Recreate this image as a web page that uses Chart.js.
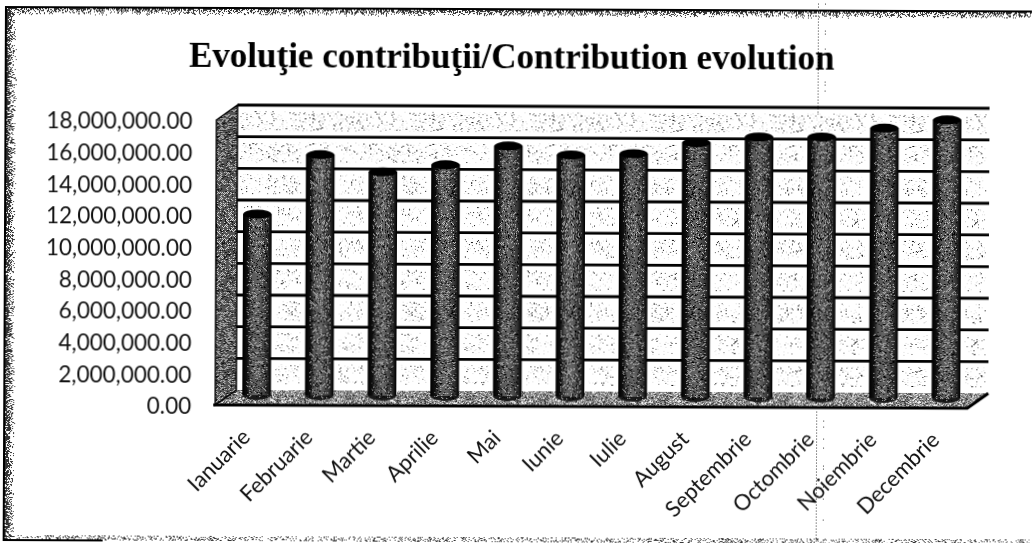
<!DOCTYPE html>
<html>
<head>
<meta charset="utf-8">
<title>Evoluţie contribuţii</title>
<style>
html, body { margin: 0; padding: 0; background: #fff; overflow: hidden; width: 1032px; height: 543px; }
#wrap { width: 1032px; height: 543px; transform: rotate(0.25deg); transform-origin: 0 0; }
</style>
<script src="https://cdn.jsdelivr.net/npm/chart.js@4"></script>
</head>
<body>
<div id="wrap"><canvas id="chart" width="1032" height="543"></canvas></div>
<script>
const months = ['Ianuarie', 'Februarie', 'Martie', 'Aprilie', 'Mai', 'Iunie', 'Iulie', 'August', 'Septembrie', 'Octombrie', 'Noiembrie', 'Decembrie'];
const contributions = [11430000, 15200000, 14130000, 14600000, 15800000, 15250000, 15350000, 16070000, 16440000, 16460000, 17030000, 17570000];
const tickStep = 2000000;
const tickMax = 18000000;

// depth of the fake 3D box, tick labels sit a little under the front plane
const depthX = 21, depthY = 15;
const frontLift = 2;
const barShiftX = 10, barShiftY = -12;
const barWidth = 28;

// repeatable noise for the scanned look
function noise(x, y) {
    const v = Math.sin(x * 12.9898 + y * 78.233) * 43758.5453;
    return v - Math.floor(v);
}

function makePattern(ctx, size, base, paint) {
    const c = document.createElement('canvas');
    c.width = c.height = size;
    const g = c.getContext('2d');
    if (base) { g.fillStyle = base; g.fillRect(0, 0, size, size); }
    for (let x = 0; x < size; x++) {
        for (let y = 0; y < size; y++) {
            const col = paint(x, y, noise(x, y));
            if (col) { g.fillStyle = col; g.fillRect(x, y, 1, 1); }
        }
    }
    return ctx.createPattern(c, 'repeat');
}

const box3d = {
    id: 'box3d',
    beforeDraw(chart) {
        const ctx = chart.ctx;
        ctx.save();
        ctx.fillStyle = '#fff';
        ctx.fillRect(0, 0, chart.width, chart.height);
        // scanned page frame
        ctx.fillStyle = '#333';
        for (let x = 7; x < 18; x++) {
            for (let y = 7; y < 540; y++) {
                if (noise(x, y) < 0.85 - (x - 7) / 11) ctx.fillRect(x, y, 1, 1);
            }
        }
        for (let x = 7; x < 1032; x++) {
            for (let y = 7; y < 16; y++) {
                if (noise(x, y) < 0.8 - (y - 7) / 9) ctx.fillRect(x, y, 1, 1);
            }
            for (let y = 535; y < 540; y++) {
                if (noise(x, y) < 0.25) ctx.fillRect(x, y, 1, 1);
            }
        }
        ctx.fillStyle = '#000';
        ctx.fillRect(6, 6, 1026, 2);
        ctx.fillRect(5, 6, 2, 535);
        ctx.fillRect(5, 539, 100, 2);
        ctx.restore();
    },
    beforeDatasetsDraw(chart) {
        const ctx = chart.ctx;
        const y = chart.scales.y;
        const a = chart.chartArea;
        const backL = a.left + depthX, backR = a.right + depthX;
        const back = depthY + frontLift;
        const frontTop = y.top - frontLift, frontBottom = y.bottom - frontLift;
        const speckle = makePattern(ctx, 120, null, (px, py, n) => {
            if (n < 0.03) return '#666';
            if (n < 0.05) return '#111';
            if (n < 0.1) return '#ddd';
            return null;
        });
        const sideWall = makePattern(ctx, 120, '#555', (px, py, n) => {
            if ((px + py) % 2 === 0 && n < 0.35) return '#ddd';
            if (n > 0.85) return '#111';
            return null;
        });
        const floorFill = makePattern(ctx, 120, '#8c8c8c', (px, py, n) => {
            if (n < 0.25) return '#eee';
            if (n > 0.8) return '#333';
            return null;
        });
        ctx.save();
        // speckled bands on the back wall
        ctx.fillStyle = speckle;
        for (let v = 0; v < tickMax; v += tickStep) {
            const top = y.getPixelForValue(v + tickStep) - back;
            const bottom = y.getPixelForValue(v) - back;
            ctx.fillRect(backL + 3, top + 6, backR - backL - 6, bottom - top - 12);
        }
        // white halo next to the columns
        ctx.fillStyle = '#fff';
        chart.getDatasetMeta(0).data.forEach(bar => {
            ctx.fillRect(bar.x + barShiftX - barWidth / 2 - 5, bar.y + barShiftY - 6, barWidth + 10, y.bottom - bar.y);
        });
        // floor
        ctx.fillStyle = floorFill;
        ctx.beginPath();
        ctx.moveTo(a.left, frontBottom);
        ctx.lineTo(backL, frontBottom - depthY);
        ctx.lineTo(backR, frontBottom - depthY);
        ctx.lineTo(a.right, frontBottom);
        ctx.closePath();
        ctx.fill();
        // gridlines on the back wall
        ctx.strokeStyle = '#000';
        ctx.lineWidth = 2.8;
        for (let v = tickStep; v <= tickMax; v += tickStep) {
            const py = y.getPixelForValue(v) - back;
            ctx.beginPath();
            ctx.moveTo(backL, py);
            ctx.lineTo(backR, py);
            ctx.stroke();
        }
        // left wall
        ctx.fillStyle = sideWall;
        ctx.beginPath();
        ctx.moveTo(a.left, frontTop);
        ctx.lineTo(backL, frontTop - depthY);
        ctx.lineTo(backL, frontBottom - depthY);
        ctx.lineTo(a.left, frontBottom);
        ctx.closePath();
        ctx.fill();
        ctx.lineWidth = 1.5;
        ctx.stroke();
        // front edge of the floor
        ctx.lineWidth = 3;
        ctx.beginPath();
        ctx.moveTo(a.left - 2, frontBottom);
        ctx.lineTo(a.right, frontBottom);
        ctx.lineTo(backR, frontBottom - depthY);
        ctx.stroke();
        ctx.restore();
    },
    beforeDatasetDraw(chart) {
        chart.ctx.save();
        chart.ctx.translate(barShiftX, barShiftY);
    },
    afterDatasetDraw(chart) {
        const ctx = chart.ctx;
        const dots = makePattern(ctx, 120, null, (px, py, n) => {
            if ((px + py) % 2 === 0 && n < 0.22) return '#ccc';
            if (n > 0.88) return '#000';
            return null;
        });
        chart.getDatasetMeta(0).data.forEach(bar => {
            const r = barWidth / 2;
            const base = chart.scales.y.bottom;
            // round foot of the cylinder
            ctx.fillStyle = '#1a1a1a';
            ctx.beginPath();
            ctx.ellipse(bar.x, base, r, 5, 0, 0, Math.PI);
            ctx.fill();
            // halftone on the body
            ctx.fillStyle = dots;
            ctx.fillRect(bar.x - r + 4, bar.y, barWidth - 7, base - bar.y + 3);
            // cap
            ctx.fillStyle = '#000';
            ctx.beginPath();
            ctx.ellipse(bar.x, bar.y, r, 4.5, 0, 0, Math.PI * 2);
            ctx.fill();
        });
        ctx.restore();
    },
    afterDraw(chart) {
        // paper fold
        const ctx = chart.ctx;
        ctx.save();
        ctx.fillStyle = '#333';
        for (let py = 0; py < 540; py += 3) {
            if (py > 108 && py < 408) continue;
            ctx.fillRect(818, py, 1, 1);
            if (noise(py, 7) < 0.2) ctx.fillRect(825, py, 1, 1);
        }
        ctx.restore();
    }
};

new Chart(document.getElementById('chart').getContext('2d'), {
    type: 'bar',
    plugins: [box3d],
    data: {
        labels: months,
        datasets: [{
            data: contributions,
            barThickness: barWidth,
            clip: false,
            backgroundColor: function(c) {
                const a = c.chart.chartArea;
                if (!a) return '#444';
                const cx = c.chart.scales.x.getPixelForValue(c.dataIndex);
                const g = c.chart.ctx.createLinearGradient(cx - barWidth / 2, 0, cx + barWidth / 2, 0);
                g.addColorStop(0, '#000');
                g.addColorStop(0.16, '#111');
                g.addColorStop(0.3, '#555');
                g.addColorStop(0.55, '#666');
                g.addColorStop(0.85, '#333');
                g.addColorStop(1, '#000');
                return g;
            }
        }]
    },
    options: {
        responsive: false,
        devicePixelRatio: 1,
        animation: false,
        layout: { padding: { top: 36, right: 8, left: 0, bottom: 0 } },
        plugins: {
            legend: { display: false },
            tooltip: { enabled: false },
            title: {
                display: true,
                text: 'Evoluţie contribuţii/Contribution evolution',
                color: '#000',
                font: { family: '"Liberation Serif"', size: 35, weight: 'bold' },
                padding: { top: 0, bottom: 43 }
            }
        },
        scales: {
            x: {
                grid: { display: false },
                border: { display: false },
                ticks: {
                    color: '#111',
                    font: { family: 'Lato', size: 22 },
                    maxRotation: 45,
                    minRotation: 45,
                    autoSkip: false,
                    padding: 9
                },
                afterFit(s) { s.height = 137; }
            },
            y: {
                min: 0,
                max: tickMax,
                grid: { display: false },
                border: { display: false },
                ticks: {
                    stepSize: tickStep,
                    color: '#111',
                    font: { family: 'Lato', size: 22.5 },
                    padding: 16,
                    callback: function(v) {
                        return v.toLocaleString('en-US', { minimumFractionDigits: 2, maximumFractionDigits: 2 });
                    }
                },
                afterFit(s) { s.width = 217; }
            },
            // only keeps the plot clear of the right margin
            spacer: {
                position: 'right',
                display: true,
                grid: { display: false },
                border: { display: false },
                ticks: { display: false },
                afterFit(s) { s.width = 55; }
            }
        }
    }
});
</script>
</body>
</html>
